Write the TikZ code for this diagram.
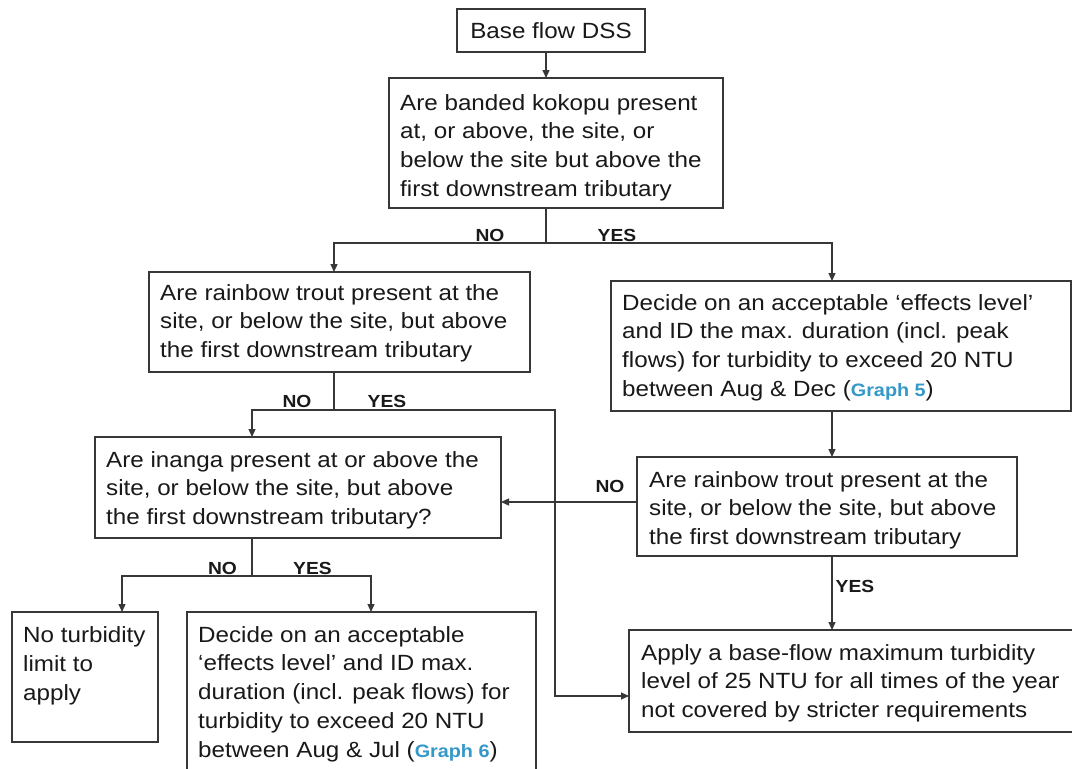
\documentclass[tikz,border=0pt]{standalone}
\usepackage{fontspec}
\setmainfont{Liberation Sans}[FakeStretch=1.1]
\usetikzlibrary{arrows.meta}
\definecolor{graphblue}{RGB}{52,152,200}
\definecolor{lncol}{RGB}{55,55,55}
\definecolor{txtcol}{RGB}{25,25,25}
\newcommand{\gref}[1]{{\fontsize{18}{28.8}\selectfont\bfseries\color{graphblue}#1}}
\tikzset{
  box/.style={draw=lncol, line width=1.2pt, rectangle, inner sep=0pt, outer sep=0pt},
  txt/.style={font=\fontsize{22}{28.8}\selectfont, text=txtcol, align=left, inner sep=0pt, anchor=north west},
  lab/.style={font=\fontsize{17.5}{17.5}\selectfont\bfseries, text=txtcol, inner sep=0pt, anchor=base},
  ln/.style={draw=lncol, line width=1.2pt},
  arr/.style={ln, -{Triangle[length=8pt,width=7pt]}}
}
\begin{document}
\begin{tikzpicture}[x=1pt,y=-1pt]
\useasboundingbox (0,0) rectangle (1072,769);
\fill[white] (0,0) rectangle (1072,769);
\clip (0,0) rectangle (1072,769);
% boxes
\node[box, minimum width=188, minimum height=43] (b1) at (551,30.5) {};
\node[box, minimum width=334, minimum height=130] (b2) at (556,143) {};
\node[box, minimum width=381, minimum height=100] (b3) at (339.5,322) {};
\node[box, minimum width=460, minimum height=130] (b4) at (841,346) {};
\node[box, minimum width=406, minimum height=101] (b5) at (298,487.5) {};
\node[box, minimum width=380, minimum height=99] (b6) at (827,506.5) {};
\node[box, minimum width=146, minimum height=130] (b7) at (85,677) {};
\node[box, minimum width=460, minimum height=102] (b8) at (859,681) {};
\node[box, minimum width=349, minimum height=180] (b9) at (361.5,702) {};
% texts
\node[font=\fontsize{22}{28.8}\selectfont, text=txtcol, inner sep=0pt] (t1) at (b1.center) {Base flow DSS};
\node[txt] (t2) at (400,94) {Are banded kokopu present\\at, or above, the site, or\\below the site but above the\\first downstream tributary};
\node[txt] (t3) at (160,284) {Are rainbow trout present at the\\site, or below the site, but above\\the first downstream tributary};
\node[txt] (t4) at (622,294) {Decide on an acceptable ‘effects level’\\and ID the max. duration (incl. peak\\flows) for turbidity to exceed 20 NTU\\between Aug \& Dec (\gref{Graph 5})};
\node[txt] (t5) at (106,451) {Are inanga present at or above the\\site, or below the site, but above\\the first downstream tributary?};
\node[txt] (t6) at (649,471) {Are rainbow trout present at the\\site, or below the site, but above\\the first downstream tributary};
\node[txt] (t7) at (23,626.5) {No turbidity\\limit to\\apply};
\node[txt] (t8) at (641,644) {Apply a base-flow maximum turbidity\\level of 25 NTU for all times of the year\\not covered by stricter requirements};
\node[txt] (t9) at (198,626) {Decide on an acceptable\\‘effects level’ and ID max.\\duration (incl. peak flows) for\\turbidity to exceed 20 NTU\\between Aug \& Jul (\gref{Graph 6})};
% junction coordinates
\coordinate (j1) at (546,243);
\coordinate (j1l) at (334,243);
\coordinate (j1r) at (832,243);
\coordinate (j2) at (334,410);
\coordinate (j2l) at (252,410);
\coordinate (j2r) at (555,410);
\coordinate (j2d) at (555,696);
\coordinate (j3) at (252,576);
\coordinate (j3l) at (122,576);
\coordinate (j3r) at (371,576);
\coordinate (k) at (0,502);
% connectors
\draw[arr] (b1.south -| j1) -- (b2.north -| j1);
\draw[ln] (b2.south -| j1) -- (j1);
\draw[arr] (j1) -- (j1l) -- (b3.north -| j1l);
\draw[arr] (j1) -- (j1r) -- (b4.north -| j1r);
\draw[ln] (b3.south -| j2) -- (j2);
\draw[arr] (j2) -- (j2l) -- (b5.north -| j2l);
\draw[arr] (j2) -- (j2r) -- (j2d) -- (b8.west |- j2d);
\draw[arr] (b4.south -| j1r) -- (b6.north -| j1r);
\draw[arr] (b6.west |- k) -- (b5.east |- k);
\draw[arr] (b6.south -| j1r) -- (b8.north -| j1r);
\draw[ln] (b5.south -| j3) -- (j3);
\draw[arr] (j3) -- (j3l) -- (b7.north -| j3l);
\draw[arr] (j3) -- (j3r) -- (b9.north -| j3r);
% labels
\node[lab] (n1) at (490,241) {NO};
\node[lab] (y1) at (617,241) {YES};
\node[lab] (n2) at (297,407) {NO};
\node[lab] (y2) at (387,407) {YES};
\node[lab] (n3) at (610,492) {NO};
\node[lab] (y3) at (855,592) {YES};
\node[lab] (n4) at (222.5,574) {NO};
\node[lab] (y4) at (312.5,574) {YES};
\end{tikzpicture}
\end{document}
